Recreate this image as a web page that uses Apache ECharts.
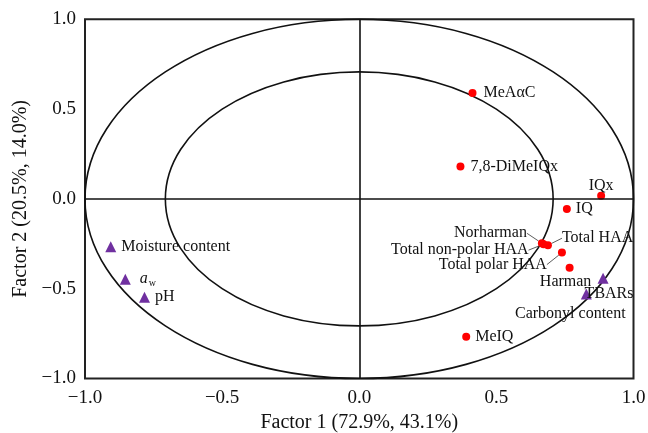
<!DOCTYPE html>
<html>
<head>
<meta charset="utf-8">
<script src="https://cdn.jsdelivr.net/npm/echarts@6/dist/echarts.min.js"></script>
<style>html,body{margin:0;padding:0;background:#fff}#c{width:648px;height:433px}</style>
</head>
<body>
<div id="c"></div>
<script>
// ---- data ----
const xTicks = [-1.0, -0.5, 0.0, 0.5, 1.0];
const yTicks = [-1.0, -0.5, 0.0, 0.5, 1.0];
const xTitle = 'Factor 1 (72.9%, 43.1%)';
const yTitle = 'Factor 2 (20.5%, 14.0%)';
const circleRadii = [1.0, 0.707];

const haaNames = ['MeAαC', '7,8-DiMeIQx', 'IQx', 'IQ', 'Norharman', 'Total non-polar HAA', 'Total HAA', 'Total polar HAA', 'Harman', 'MeIQ'];
const haaX = [0.413, 0.369, 0.882, 0.757, 0.666, 0.672, 0.688, 0.739, 0.767, 0.390];
const haaY = [0.590, 0.180, 0.017, -0.056, -0.247, -0.252, -0.258, -0.299, -0.383, -0.767];

const qualNames = ['Moisture content', 'aw', 'pH', 'TBARs', 'Carbonyl content'];
const qualX = [-0.906, -0.853, -0.783, 0.889, 0.828];
const qualY = [-0.266, -0.447, -0.547, -0.442, -0.529];

// ---- label placement (style only) ----
const labelCfg = {
  'MeAαC': {position: 'right', distance: 7},
  '7,8-DiMeIQx': {position: 'right', distance: 6},
  'IQx': {position: 'top', distance: 0, dx: 0, dy: 2},
  'IQ': {position: 'right', distance: 5},
  'Norharman': {position: 'left', distance: 5, dx: -6, dy: -10, line: true},
  'Total non-polar HAA': {position: 'left', distance: 5, dx: -6, dy: 6, line: true},
  'Total HAA': {position: 'right', distance: 5, dx: 5, dy: -7, line: true},
  'Total polar HAA': {position: 'left', distance: 5, dx: -6, dy: 12, line: true},
  'Harman': {position: 'bottom', distance: 1, dx: -4, dy: 1},
  'MeIQ': {position: 'right', distance: 5},
  'Moisture content': {position: 'right', distance: 5},
  'aw': {position: 'right', distance: 9},
  'pH': {position: 'right', distance: 5},
  'TBARs': {position: 'bottom', distance: 0, dx: 6, dy: 2},
  'Carbonyl content': {position: 'bottom', distance: 0, dx: -16, dy: 6}
};

const FONT = 'Liberation Serif';

function makeItems(names, xs, ys) {
  return names.map((n, i) => {
    const c = labelCfg[n] || {};
    const item = {
      name: n,
      value: [xs[i], ys[i]],
      label: {position: c.position, distance: c.distance}
    };
    if (n === 'aw') item.label.formatter = '{a|a}{w|w}';
    item.labelLine = {show: !!c.line};
    return item;
  });
}

function layoutFor(names) {
  return function (params) {
    const c = labelCfg[names[params.dataIndex]] || {};
    if (c.dx !== undefined || c.dy !== undefined) {
      return {dx: c.dx || 0, dy: c.dy || 0};
    }
    return {};
  };
}

const fmt = v => (v < 0 ? '\u2212' + Math.abs(v).toFixed(1) : v.toFixed(1));

const labelBase = {
  show: true,
  formatter: '{b}',
  color: '#111',
  fontFamily: FONT,
  fontSize: 16,
  rich: {
    a: {fontFamily: FONT, fontStyle: 'italic', fontSize: 16, color: '#111'},
    w: {fontFamily: FONT, fontSize: 10, color: '#111', padding: [8, 0, 0, 1]}
  }
};

const chart = echarts.init(document.getElementById('c'), null, {renderer: 'canvas'});
chart.setOption({
  animation: false,
  backgroundColor: '#fff',
  grid: {left: 85, right: 14.5, top: 19.3, bottom: 54.5, show: true, borderColor: '#222', borderWidth: 2, backgroundColor: 'transparent', containLabel: false, outerBoundsMode: 'none'},
  xAxis: {
    type: 'value', min: xTicks[0], max: xTicks[xTicks.length - 1], interval: 0.5,
    name: xTitle, nameLocation: 'middle', nameGap: 34,
    nameTextStyle: {fontFamily: FONT, fontSize: 20, color: '#111'},
    axisLine: {show: false, onZero: false},
    axisTick: {show: false},
    splitLine: {show: false},
    axisLabel: {fontFamily: FONT, fontSize: 19, color: '#111', margin: 10, formatter: fmt}
  },
  yAxis: {
    type: 'value', min: yTicks[0], max: yTicks[yTicks.length - 1], interval: 0.5,
    name: yTitle, nameLocation: 'middle', nameGap: 43,
    nameTextStyle: {fontFamily: FONT, fontSize: 20, color: '#111'},
    axisLine: {show: false, onZero: false},
    axisTick: {show: false},
    splitLine: {show: false},
    axisLabel: {fontFamily: FONT, fontSize: 19, color: '#111', margin: 9, formatter: fmt}
  },
  series: [
    {
      type: 'custom',
      silent: true,
      z: 1,
      data: circleRadii.map(r => [0, 0, r]),
      renderItem: function (params, api) {
        const c = api.coord([api.value(0), api.value(1)]);
        const r = api.value(2);
        const s = api.size([r, r]);
        return {
          type: 'ellipse',
          shape: {cx: c[0], cy: c[1], rx: s[0], ry: s[1]},
          style: {fill: null, stroke: '#111', lineWidth: 1.6}
        };
      }
    },
    {
      type: 'scatter',
      name: 'HAA',
      z: 3,
      symbol: 'circle',
      symbolSize: 8,
      itemStyle: {color: '#ff0000', opacity: 1},
      label: labelBase,
      labelLine: {show: false, lineStyle: {color: '#333', width: 0.8}},
      labelLayout: layoutFor(haaNames),
      data: makeItems(haaNames, haaX, haaY),
      markLine: {
        silent: true,
        symbol: 'none',
        label: {show: false},
        lineStyle: {color: '#111', width: 1.6, type: 'solid'},
        data: [{xAxis: 0}, {yAxis: 0}]
      }
    },
    {
      type: 'scatter',
      name: 'Quality',
      z: 3,
      symbol: 'triangle',
      symbolSize: 11,
      itemStyle: {color: '#7030a0', opacity: 1},
      label: labelBase,
      labelLayout: layoutFor(qualNames),
      data: makeItems(qualNames, qualX, qualY)
    }
  ]
});
</script>
</body>
</html>
